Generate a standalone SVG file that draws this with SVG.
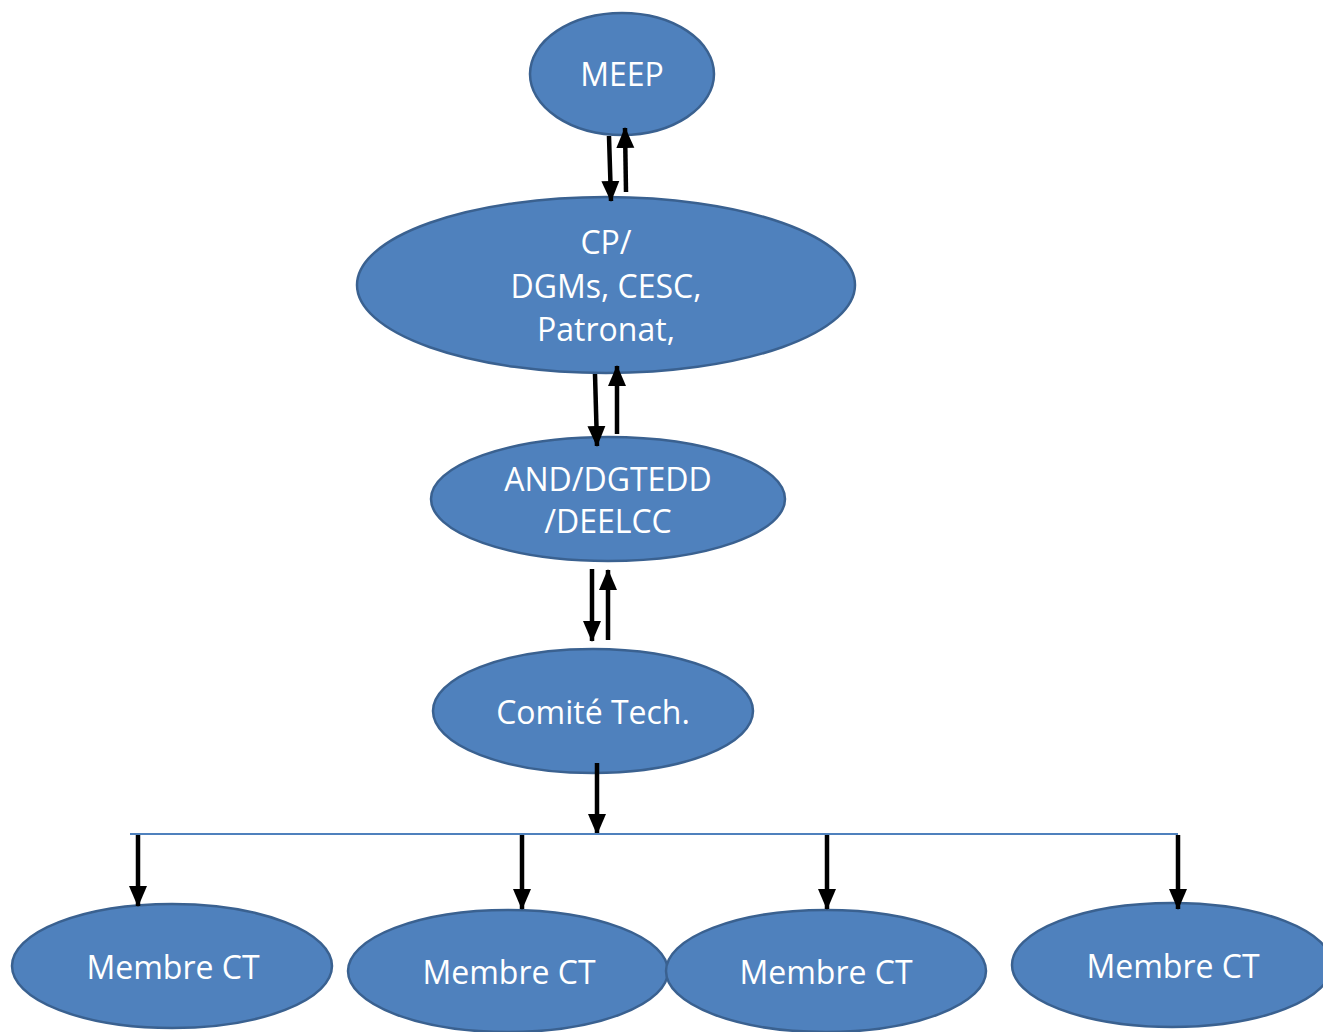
<svg xmlns="http://www.w3.org/2000/svg" width="1323" height="1032" viewBox="0 0 1323 1032">
<style>
.node ellipse{fill:#4F81BD;stroke:#3A6190;stroke-width:2.5}
.node text{fill:#fff;font-family:"Open Sans","Liberation Sans",sans-serif;font-size:32px;text-anchor:middle;dominant-baseline:central}
.arr{stroke:#000;stroke-width:4.5;fill:none;marker-end:url(#ah)}
.bus{stroke:#4F81BD;stroke-width:2;fill:none}
</style>
<defs>
<marker id="ah" markerUnits="userSpaceOnUse" markerWidth="22" markerHeight="20" viewBox="0 0 22 20" refX="20" refY="10" orient="auto">
<path d="M0,1 L21,10 L0,19 Z" fill="#000"/>
</marker>
</defs>
<rect width="1323" height="1032" fill="#fff"/>
<g id="node-meep" class="node"><ellipse cx="622" cy="74" rx="92" ry="61"/><text x="622" y="73">MEEP</text></g>
<g id="node-cp" class="node"><ellipse cx="606" cy="285" rx="249" ry="88"/><text x="606" y="241">CP/</text><text x="606" y="285">DGMs, CESC,</text><text x="606" y="328">Patronat,</text></g>
<g id="node-and" class="node"><ellipse cx="608" cy="499" rx="177" ry="62"/><text x="608" y="478">AND/DGTEDD</text><text x="608" y="520">/DEELCC</text></g>
<g id="node-ct" class="node"><ellipse cx="593" cy="711" rx="160" ry="62"/><text x="593" y="711">Comité Tech.</text></g>
<g id="node-m1" class="node"><ellipse cx="172" cy="966" rx="160" ry="62"/><text x="173" y="966">Membre CT</text></g>
<g id="node-m2" class="node"><ellipse cx="508" cy="971" rx="160" ry="61"/><text x="509" y="971">Membre CT</text></g>
<g id="node-m3" class="node"><ellipse cx="826" cy="971" rx="160" ry="61"/><text x="826" y="971">Membre CT</text></g>
<g id="node-m4" class="node"><ellipse cx="1172" cy="965" rx="160" ry="62"/><text x="1173" y="965">Membre CT</text></g>
<g id="connectors">
<line class="arr" x1="609" y1="136" x2="611" y2="201"/>
<line class="arr" x1="626" y1="192" x2="625" y2="128"/>
<line class="arr" x1="595" y1="374" x2="597" y2="446"/>
<line class="arr" x1="617" y1="434" x2="617" y2="366"/>
<line class="arr" x1="592" y1="569" x2="592" y2="641"/>
<line class="arr" x1="608" y1="640" x2="608" y2="570"/>
<line class="arr" x1="597" y1="763" x2="597" y2="834"/>
<line class="bus" x1="130" y1="834" x2="1178" y2="834"/>
<line class="arr" x1="138" y1="835" x2="138" y2="906"/>
<line class="arr" x1="522" y1="835" x2="522" y2="909"/>
<line class="arr" x1="827" y1="835" x2="827" y2="909"/>
<line class="arr" x1="1178" y1="835" x2="1178" y2="909"/>
</g>
</svg>
